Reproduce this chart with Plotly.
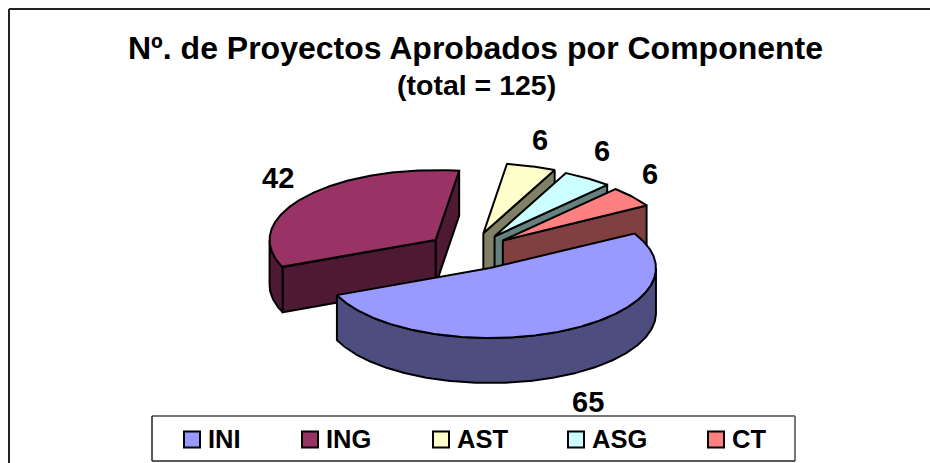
import numpy as np
import plotly.graph_objects as go

# ---- data ----
categories = ["INI", "ING", "AST", "ASG", "CT"]
values = [65, 42, 6, 6, 6]
title_text = "Nº. de Proyectos Aprobados por Componente"
subtitle_text = "(total = 125)"

# ---- style ----
top_colors = ["#9999FF", "#993366", "#FFFFCC", "#CCFFFF", "#FF8080"]
side_colors = ["#4D4D80", "#4D1933", "#808066", "#668080", "#804040"]
pulls = [0.265, 0.265, 0.27, 0.26, 0.25]
label_kx = [1.326, 1.203, 1.18, 1.155, 1.136]
label_ky = [1.42, 1.45, 1.39, 1.47, 1.52]
CX, CY, RX, RY, DEPTH = 470.4, 251.4, 166, 70, 45
START = -30.0
FONT = "Liberation Sans, Arial, sans-serif"
W, H = 930, 463

fig = go.Figure()
total = sum(values)
sweeps = [v / total * 360 for v in values]
starts = [START + sum(sweeps[:i]) for i in range(len(values))]


def poly(xs, ys, color, name):
    fig.add_trace(go.Scatter(
        x=list(xs) + [xs[0]], y=list(ys) + [ys[0]], mode="lines", fill="toself",
        fillcolor=color, line=dict(color="black", width=2), showlegend=False,
        hoverinfo="text", text=name,
    ))


def arc(ax, ay, a0, a1):
    t = np.radians(np.linspace(a0, a1, max(int(abs(a1 - a0)) * 2, 2)))
    return ax + RX * np.cos(t), ay + RY * np.sin(t)


apexes = []
for i in range(len(values)):
    mid = np.radians(starts[i] + sweeps[i] / 2)
    apexes.append((CX + pulls[i] * RX * np.cos(mid), CY + pulls[i] * RY * np.sin(mid)))

# painted back to front
for i in [1, 2, 3, 4, 0]:
    ax, ay = apexes[i]
    a0, a1 = starts[i], starts[i] + sweeps[i]
    name = f"{categories[i]}: {values[i]}"
    if i != 0:  # cut face on the trailing edge
        ex, ey = arc(ax, ay, a1, a1)
        poly([ax, ex[0], ex[0], ax], [ay, ey[0], ey[0] + DEPTH, ay + DEPTH], side_colors[i], name)
    if i == 1:  # cut face on the leading edge
        ex, ey = arc(ax, ay, a0, a0)
        poly([ax, ex[0], ex[0], ax], [ay, ey[0], ey[0] + DEPTH, ay + DEPTH], side_colors[i], name)
    # outer wall: only the part below the ellipse's horizontal axis shows
    lo, hi = max(a0, 0), min(a1, 180)
    if hi > lo:
        wx, wy = arc(ax, ay, lo, hi)
        poly(np.r_[wx, wx[::-1]], np.r_[wy, wy[::-1] + DEPTH], side_colors[i], name)
    tx, ty = arc(ax, ay, a0, a1)
    poly(np.r_[ax, tx], np.r_[ay, ty], top_colors[i], name)

# data labels
ann = []
for i, v in enumerate(values):
    mid = np.radians(starts[i] + sweeps[i] / 2)
    ax, ay = apexes[i]
    ly = ay + label_ky[i] * RY * np.sin(mid) + (DEPTH if np.sin(mid) > 0 else 0)
    lx = ax + label_kx[i] * RX * np.cos(mid)
    ann.append(dict(x=lx, y=ly, text=f"<b>{v}</b>", showarrow=False,
                    font=dict(family=FONT, size=29, color="black")))

ann.append(dict(x=475, y=48, text=f"<b>{title_text}</b>", showarrow=False,
                font=dict(family=FONT, size=32, color="black")))
ann.append(dict(x=476, y=85, text=f"<b>{subtitle_text}</b>", showarrow=False,
                font=dict(family=FONT, size=28.5, color="black")))

# legend
LEG_X = [192, 310, 441, 576, 716]
LEG_Y = 439.5
fig.add_trace(go.Scatter(
    x=LEG_X, y=[LEG_Y] * len(LEG_X), mode="markers", showlegend=False, hoverinfo="text",
    text=categories,
    marker=dict(symbol="square", size=16, color=top_colors, line=dict(color="black", width=2)),
))
for lx, c in zip(LEG_X, categories):
    ann.append(dict(x=lx + 13.5, y=LEG_Y - 0.5, text=f"<b>{c}</b>", showarrow=False, xanchor="left",
                    font=dict(family=FONT, size=25.5, color="black")))

DARK, GREY = "#222222", "#777777"
BOX_L, BOX_R, BOX_T, BOX_B = 152, 795, 416, 461
shapes = [
    dict(type="line", x0=9, x1=9, y0=H, y1=9, line=dict(color=DARK, width=2)),
    dict(type="line", x0=9, x1=W, y0=9, y1=9, line=dict(color=DARK, width=2)),
    dict(type="rect", x0=BOX_L, x1=BOX_R, y0=BOX_T, y1=BOX_B, line=dict(width=0), fillcolor="white", layer="below"),
    dict(type="line", x0=BOX_L, x1=BOX_R, y0=BOX_T, y1=BOX_T, line=dict(color=GREY, width=2)),
    dict(type="line", x0=BOX_R, x1=BOX_R, y0=BOX_T, y1=BOX_B, line=dict(color=GREY, width=2)),
    dict(type="line", x0=BOX_L, x1=BOX_L, y0=BOX_T, y1=BOX_B, line=dict(color=DARK, width=1.5)),
    dict(type="line", x0=BOX_L, x1=BOX_R, y0=BOX_B, y1=BOX_B, line=dict(color=DARK, width=1.5)),
]

fig.update_layout(
    width=W, height=H, margin=dict(l=0, r=0, t=0, b=0),
    paper_bgcolor="white", plot_bgcolor="white", showlegend=False,
    xaxis=dict(range=[0, W], visible=False, fixedrange=True),
    yaxis=dict(range=[H, 0], visible=False, fixedrange=True),
    annotations=ann, shapes=shapes,
)
fig.write_html("out.html", config={"displayModeBar": False},
               post_script="document.body.style.margin='0';document.documentElement.style.overflow='hidden';")
